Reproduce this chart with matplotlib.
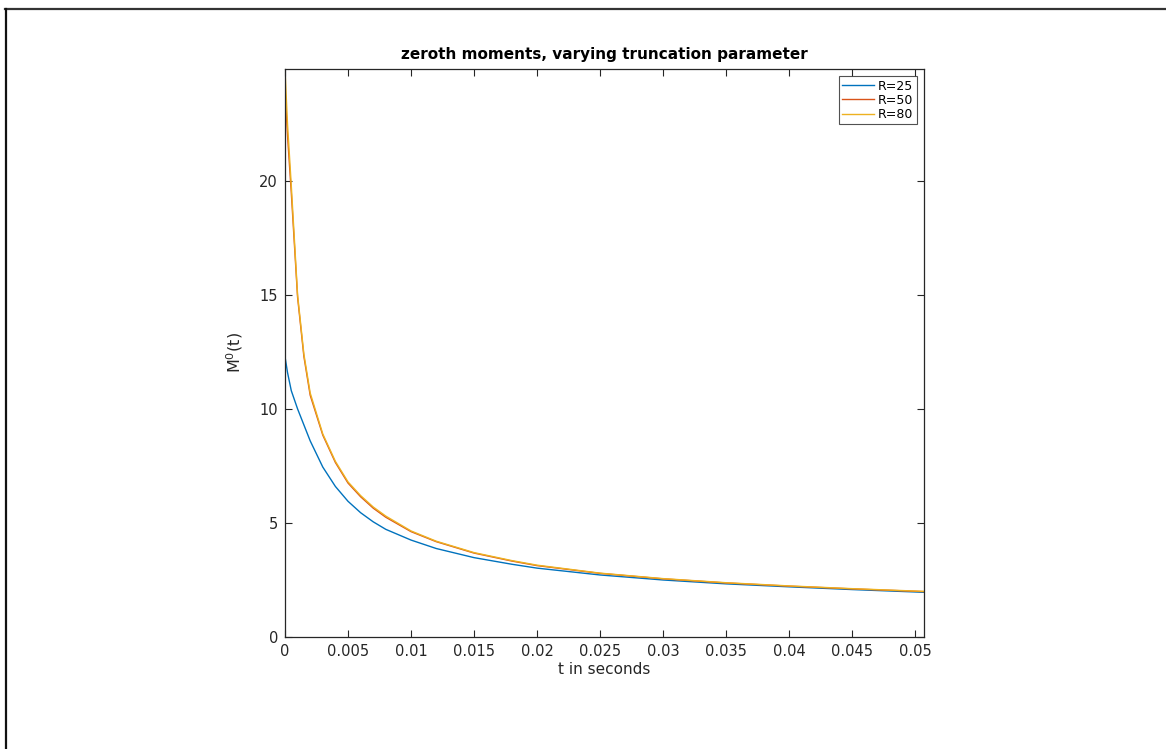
import matplotlib
matplotlib.use("Agg")
import matplotlib.pyplot as plt
from matplotlib.lines import Line2D

# values
t = [0, 0.0002, 0.0005, 0.001, 0.0015, 0.002, 0.003, 0.004, 0.005, 0.006,
     0.007, 0.008, 0.01, 0.012, 0.015, 0.018, 0.02, 0.025, 0.03, 0.035,
     0.04, 0.045, 0.0507]
m_r25 = [12.3, 11.6, 10.8, 10.0, 9.3, 8.6, 7.45, 6.6, 5.95, 5.45,
         5.05, 4.72, 4.25, 3.88, 3.48, 3.19, 3.02, 2.72, 2.5, 2.33,
         2.2, 2.08, 1.96]
m_r50 = [24.0, 22.0, 19.5, 14.9, 12.3, 10.6, 8.85, 7.65, 6.75, 6.15,
         5.65, 5.25, 4.62, 4.18, 3.68, 3.33, 3.13, 2.79, 2.55, 2.37,
         2.23, 2.11, 1.99]
m_r80 = [24.9, 22.5, 19.8, 15.0, 12.4, 10.7, 8.9, 7.7, 6.8, 6.2,
         5.7, 5.3, 4.65, 4.2, 3.7, 3.35, 3.15, 2.8, 2.56, 2.38,
         2.24, 2.12, 2.0]
labels = ["R=25", "R=50", "R=80"]
colors = ["#0072BD", "#D95319", "#EDB120"]
xticks = [0, 0.005, 0.01, 0.015, 0.02, 0.025, 0.03, 0.035, 0.04, 0.045, 0.05]
xtick_labels = ["0", "0.005", "0.01", "0.015", "0.02", "0.025", "0.03",
                "0.035", "0.04", "0.045", "0.05"]
yticks = [0, 5, 10, 15, 20]

plt.rcParams["font.family"] = "DejaVu Sans"

fig = plt.figure(figsize=(11.66, 7.49), dpi=100)
ax = fig.add_axes([0.2444, 0.1495, 0.7925 - 0.2444, 0.9079 - 0.1495])

for vals, lab, col in zip([m_r25, m_r50, m_r80], labels, colors):
    ax.plot(t, vals, color=col, linewidth=1.0, label=lab)

ax.set_xlim(0, 0.0507)
ax.set_ylim(0, 24.9)
ax.set_xticks(xticks)
ax.set_xticklabels(xtick_labels)
ax.set_yticks(yticks)
ax.tick_params(direction="in", length=5, width=0.8, top=True, right=True,
               labelsize=10.5, colors="#262626", pad=5)
for sp in ax.spines.values():
    sp.set_color("#262626")
    sp.set_linewidth(0.9)

ax.set_title("zeroth moments, varying truncation parameter", fontsize=11,
             fontweight="bold", pad=7)
ax.set_xlabel("t in seconds", fontsize=11, color="#262626", labelpad=2)
ax.set_ylabel("M$^0$(t)", fontsize=11.5, color="#262626", labelpad=10)

leg = ax.legend(loc="upper right", fontsize=9, frameon=True, fancybox=False,
                handlelength=2.6, handletextpad=0.3, borderpad=0.25,
                labelspacing=0.1, borderaxespad=0.6)
leg.get_frame().set_edgecolor("#262626")
leg.get_frame().set_linewidth(0.8)

# outer frame lines (top and left)
fig.add_artist(Line2D([5 / 1166, 1], [1 - 8.5 / 749, 1 - 8.5 / 749],
                      color="#333333", linewidth=1.6, transform=fig.transFigure))
fig.add_artist(Line2D([5.5 / 1166, 5.5 / 1166], [0, 1 - 8.5 / 749],
                      color="#111111", linewidth=1.6, transform=fig.transFigure))

fig.savefig("out.png", dpi=100)
